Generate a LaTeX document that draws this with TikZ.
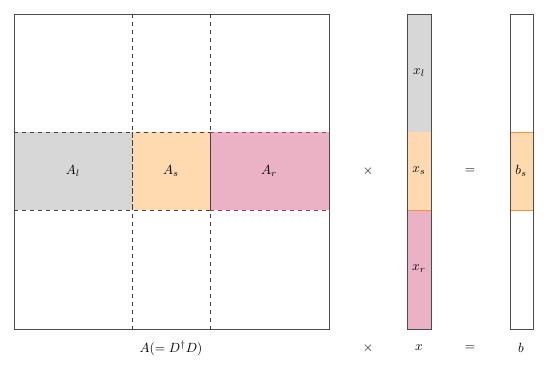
\documentclass[tikz,border=0pt]{standalone}
\begin{document}
\begin{tikzpicture}[x=0.75pt,y=-0.75pt,
  lbl/.style={inner sep=0pt},
  frame/.style={draw=black!70,line width=0.6pt},
  dsh/.style={dashed,line width=0.5pt}]
\definecolor{cgray}{RGB}{215,215,215}
\definecolor{corange}{RGB}{255,217,176}
\definecolor{cpink}{RGB}{235,178,198}
\definecolor{dorange}{RGB}{240,150,60}
\definecolor{dpink}{RGB}{170,60,100}
\useasboundingbox (0,0) rectangle (548,375);
% band fills
\fill[cgray] (14,132) rectangle (132,210);
\fill[corange] (132,132) rectangle (210,210);
\fill[cpink] (210,132) rectangle (329,210);
% dashed grid
\draw[dsh,black!75] (132,14) -- (132,329);
\draw[dsh,black!75] (210,14) -- (210,329);
\draw[dsh,black!75] (14,132) -- (132,132) (14,210) -- (132,210);
\draw[dsh,dorange] (132,132) rectangle (210,210);
\draw[dsh,black!75] (132,132) rectangle (210,210);
\draw[dsh,dpink] (210,132) -- (329,132) (210,210) -- (329,210);
% main frame
\draw[frame] (14,14) rectangle (329,329);
\node[lbl] (Al) at (73,171) {$A_l$};
\node[lbl] (As) at (171,171) {$A_s$};
\node[lbl] (Ar) at (269,171) {$A_r$};
% x vector
\fill[cgray] (407,14) rectangle (431,132);
\fill[corange] (407,132) rectangle (431,210);
\fill[cpink] (407,210) rectangle (431,329);
\draw[dorange,line width=0.6pt] (407,210) -- (431,210);
\draw[frame] (407,14) rectangle (431,329);
\node[lbl] (xl) at (419,73) {$x_l$};
\node[lbl] (xs) at (419,171) {$x_s$};
\node[lbl] (xr) at (419,269) {$x_r$};
% b vector
\fill[corange] (510,132) rectangle (533,210);
\draw[dorange,line width=0.6pt] (510,132) -- (533,132) (510,210) -- (533,210);
\draw[frame] (510,14) rectangle (533,329);
\node[lbl] (bs) at (521,171) {$b_s$};
% operators
\node[lbl] (t1) at (368,171) {$\times$};
\node[lbl] (e1) at (470,171) {$=$};
\node[lbl] (cA) at (171,348) {$A(=D^\dagger D)$};
\node[lbl] (t2) at (368,348) {$\times$};
\node[lbl] (cx) at (419,348) {$x$};
\node[lbl] (e2) at (470,348) {$=$};
\node[lbl] (cb) at (521,348) {$b$};
\end{tikzpicture}
\end{document}
